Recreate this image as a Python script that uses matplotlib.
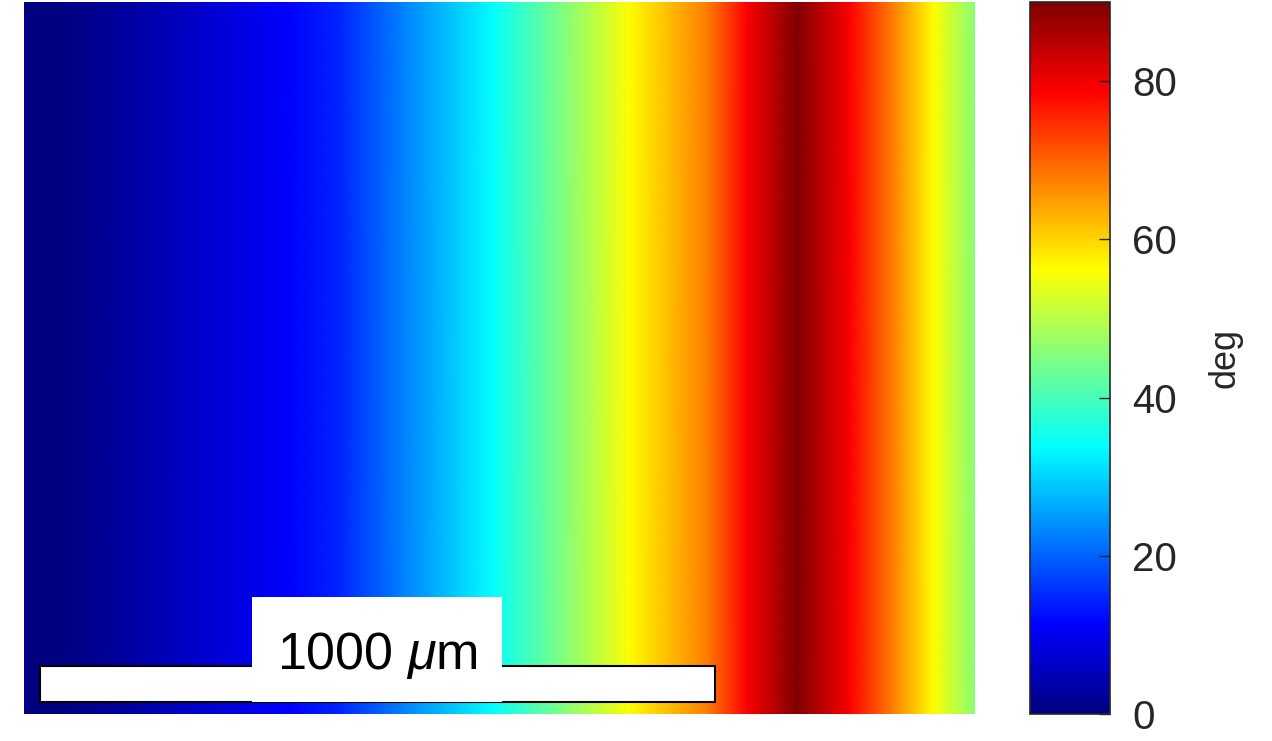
import matplotlib
matplotlib.use("Agg")
import matplotlib.pyplot as plt
from matplotlib.colors import LinearSegmentedColormap
import numpy as np

plt.rcParams["font.family"] = ["Liberation Sans", "DejaVu Sans"]
plt.rcParams["mathtext.fontset"] = "custom"
plt.rcParams["mathtext.it"] = "Liberation Sans:italic"
plt.rcParams["mathtext.rm"] = "Liberation Sans"

# orientation profile across the sample, x in um
x_um = [0, 53, 142, 261, 394, 468, 561, 695, 799, 898, 1012, 1071, 1145,
        1224, 1287, 1347, 1409]
angle_deg = [0, 0, 2.5, 6.8, 11.3, 14.6, 22.5, 33.8, 45, 56.3, 67.5, 78.8, 90,
             78.8, 67.5, 56.3, 46]
height_um = 1055
cbar_ticks = [0, 20, 40, 60, 80]
scale_len = 1000
scale_label = r"1000 $\mu$m"

# MATLAB style jet
jet_m = LinearSegmentedColormap.from_list("jet_matlab", [
    (0.0, (0, 0, 0.5)), (1 / 8, (0, 0, 1)), (3 / 8, (0, 1, 1)),
    (5 / 8, (1, 1, 0)), (7 / 8, (1, 0, 0)), (1.0, (0.5, 0, 0))])

dark = "#262626"

fig = plt.figure(figsize=(12.72, 7.41), dpi=100)
ax = fig.add_axes([24 / 1272, 27 / 741, 951 / 1272, 712 / 741])
cax = fig.add_axes([1030 / 1272, 27 / 741, 80 / 1272, 712 / 741])

xs = np.array(x_um, dtype=float)
ys = np.array([0, height_um], dtype=float)
Z = np.vstack([angle_deg, angle_deg])
mesh = ax.pcolormesh(xs, ys, Z, shading="gouraud", cmap=jet_m, vmin=0, vmax=90)
ax.set_xlim(0, x_um[-1])
ax.set_ylim(0, height_um)
ax.axis("off")

# scale bar + label box
bar_x0 = 23.7
ax.add_patch(plt.Rectangle((bar_x0, 18), scale_len, 53, facecolor="white",
                           edgecolor="black", linewidth=1.5, zorder=3))
ax.add_patch(plt.Rectangle((338, 18), 370, 155, facecolor="white",
                           edgecolor="none", zorder=4))
ax.text(bar_x0 + scale_len / 2, 67, scale_label, fontsize=37.5, ha="center",
        va="baseline", zorder=5)

cb = fig.colorbar(mesh, cax=cax)
cb.set_ticks(cbar_ticks)
cb.outline.set_edgecolor(dark)
cb.outline.set_linewidth(1.2)
cax.tick_params(direction="in", length=8, width=1, color=dark,
                labelsize=29, labelcolor=dark, pad=16)
cb.set_label("deg", fontsize=26, color=dark, labelpad=22)

fig.savefig("out.png", dpi=100)
